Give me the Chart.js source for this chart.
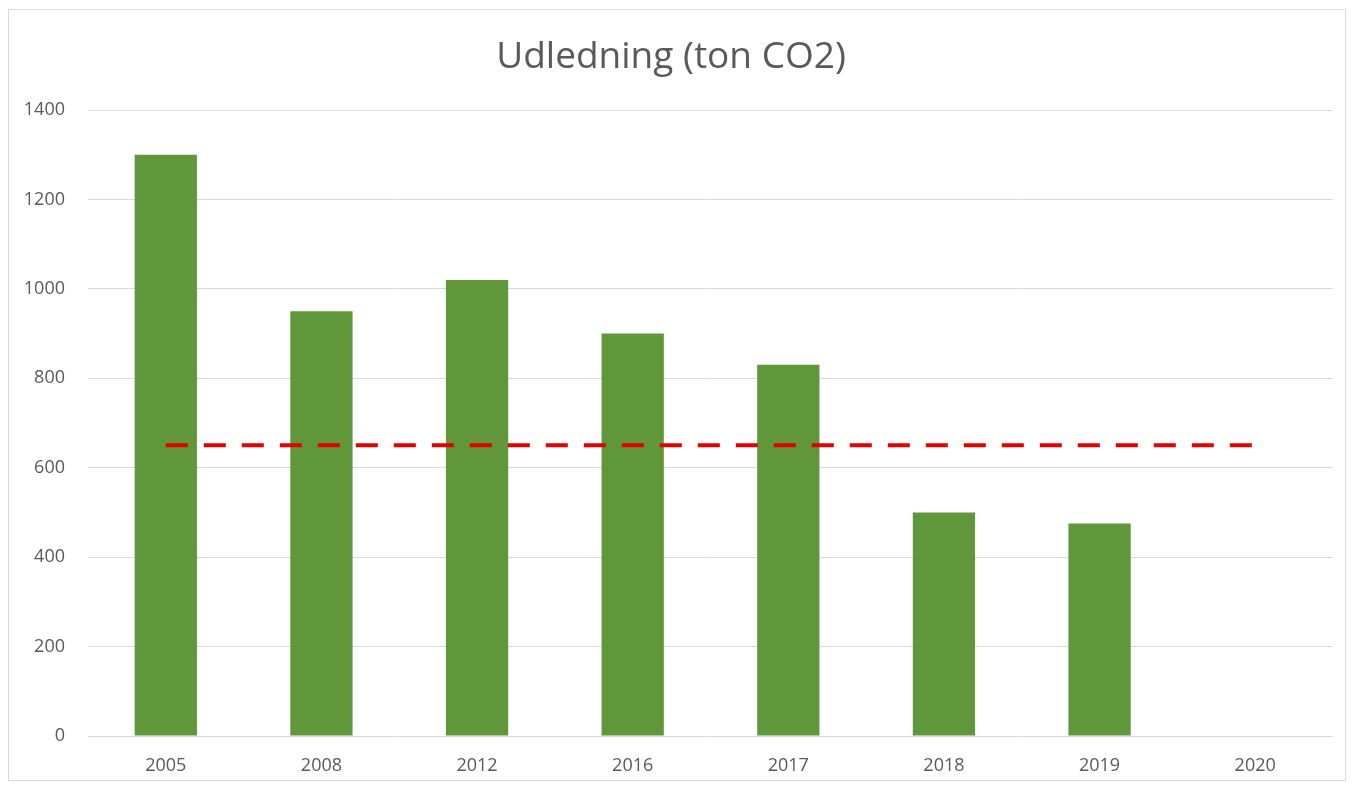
<!DOCTYPE html>
<html>
<head>
<meta charset="utf-8">
<script src="https://cdn.jsdelivr.net/npm/chart.js@4/dist/chart.umd.min.js"></script>
<style>
  body { margin: 0; background: #fff; }
  #wrap { position: absolute; left: 8px; top: 9px; width: 1336px; height: 770px; border: 1px solid #d9d9d9; }
</style>
</head>
<body>
<div id="wrap"><canvas id="chart" width="1336" height="770"></canvas></div>
<script>
// Data
const years = ['2005', '2008', '2012', '2016', '2017', '2018', '2019', '2020'];
const udledning = [1300, 950, 1020, 900, 830, 500, 475, null];
const maal = [650, 650, 650, 650, 650, 650, 650, 650];
const yTicks = [0, 200, 400, 600, 800, 1000, 1200, 1400];

const textColor = '#595959';
const fontFamily = "'Open Sans', sans-serif";

new Chart(document.getElementById('chart'), {
    data: {
        labels: years,
        datasets: [
            {
                type: 'line',
                label: 'Mål',
                data: maal,
                borderColor: '#e30000',
                borderWidth: 4,
                borderDash: [22, 16],
                borderCapStyle: 'butt',
                pointRadius: 0,
                fill: false,
                order: 0
            },
            {
                type: 'bar',
                label: 'Udledning',
                data: udledning,
                backgroundColor: '#5f973a',
                barPercentage: 0.4,
                categoryPercentage: 1,
                order: 1
            }
        ]
    },
    options: {
        responsive: false,
        animation: false,
        layout: { padding: { left: 0, right: 12, top: 0, bottom: 0 } },
        plugins: {
            legend: { display: false },
            tooltip: { enabled: false },
            title: {
                display: true,
                text: 'Udledning (ton CO2)',
                color: textColor,
                font: { family: fontFamily, size: 37, weight: 'normal' },
                padding: { top: 25, bottom: 30.6 }
            }
        },
        scales: {
            x: {
                grid: { display: false, drawTicks: false },
                border: { display: false },
                ticks: { color: textColor, padding: 19, font: { family: fontFamily, size: 18 } },
                afterFit: s => { s.height = 44; }
            },
            y: {
                min: 0,
                max: 1400,
                afterBuildTicks: s => { s.ticks = yTicks.map(v => ({ value: v })); },
                grid: { color: '#d9d9d9', lineWidth: 1, drawTicks: false },
                border: { display: false },
                ticks: {
                    color: textColor,
                    padding: 23,
                    font: { family: fontFamily, size: 18 },
                    callback: v => String(v)
                },
                afterFit: s => { s.width = 79; }
            }
        }
    }
});
</script>
</body>
</html>
